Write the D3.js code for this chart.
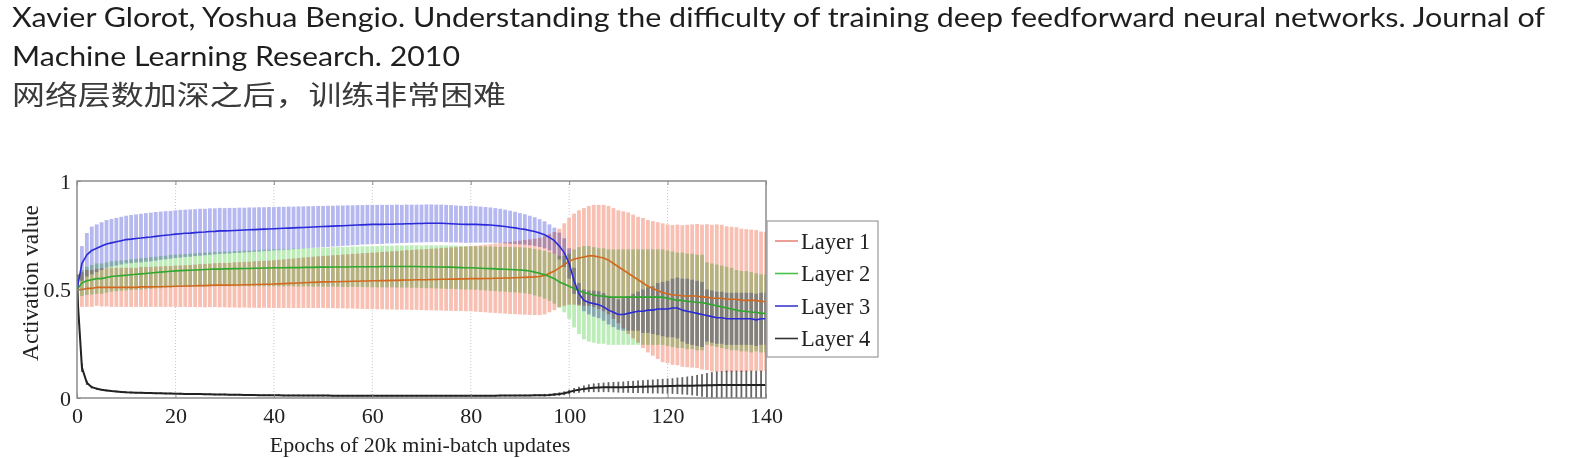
<!DOCTYPE html>
<html>
<head>
<meta charset="utf-8">
<script src="https://cdnjs.cloudflare.com/ajax/libs/d3/7.8.5/d3.min.js"></script>
<style>
  body { margin: 0; background: #fff; }
  svg { display: block; }
</style>
</head>
<body>
<div id="chart"></div>
<script>
// Header text of the slide
const titleLines = [
  'Xavier Glorot, Yoshua Bengio. Understanding the difficulty of training deep feedforward neural networks. Journal of',
  'Machine Learning Research. 2010'
];
const subtitle = '网络层数加深之后，训练非常困难';

const layerNames = ['Layer 1', 'Layer 2', 'Layer 3', 'Layer 4'];
const xTicks = [0, 20, 40, 60, 80, 100, 120, 140];
const yTicks = [0, 0.5, 1];
const yTickLabels = ['0', '0.5', '1'];

// mean activation per epoch (0..140)
const layer1Mean = [
  0.50,0.50,0.505,0.505,0.51,0.51,0.51,0.51,0.51,0.51,
  0.51,0.51,0.51,0.512,0.512,0.512,0.513,0.513,0.514,0.514,
  0.515,0.515,0.516,0.516,0.517,0.518,0.518,0.519,0.52,0.52,
  0.52,0.52,0.521,0.521,0.522,0.522,0.523,0.523,0.524,0.524,
  0.525,0.526,0.527,0.528,0.529,0.53,0.531,0.532,0.533,0.534,
  0.535,0.535,0.536,0.536,0.537,0.537,0.538,0.538,0.539,0.539,
  0.54,0.54,0.541,0.541,0.542,0.542,0.543,0.544,0.544,0.545,
  0.545,0.545,0.546,0.546,0.547,0.547,0.548,0.548,0.549,0.549,
  0.55,0.55,0.55,0.551,0.551,0.552,0.552,0.553,0.553,0.554,
  0.555,0.556,0.557,0.558,0.56,0.565,0.575,0.585,0.60,0.615,
  0.63,0.64,0.645,0.65,0.655,0.655,0.65,0.645,0.635,0.62,
  0.605,0.59,0.575,0.56,0.545,0.53,0.515,0.505,0.495,0.485,
  0.48,0.475,0.475,0.47,0.47,0.47,0.47,0.465,0.465,0.46,
  0.46,0.46,0.455,0.455,0.455,0.45,0.45,0.45,0.45,0.445,
  0.445
];
const layer1Std = [
  0.07,0.08,0.085,0.085,0.085,0.088,0.088,0.09,0.09,0.09,
  0.09,0.09,0.09,0.092,0.092,0.092,0.093,0.093,0.094,0.094,
  0.095,0.096,0.096,0.097,0.098,0.099,0.10,0.10,0.101,0.102,
  0.102,0.103,0.104,0.105,0.105,0.106,0.107,0.108,0.108,0.109,
  0.11,0.111,0.112,0.113,0.114,0.115,0.116,0.117,0.118,0.119,
  0.12,0.121,0.122,0.123,0.124,0.125,0.126,0.127,0.128,0.129,
  0.13,0.131,0.132,0.133,0.134,0.135,0.136,0.137,0.138,0.139,
  0.14,0.141,0.142,0.143,0.144,0.145,0.146,0.147,0.148,0.149,
  0.15,0.152,0.154,0.156,0.158,0.16,0.162,0.164,0.166,0.168,
  0.17,0.172,0.174,0.176,0.178,0.18,0.18,0.18,0.18,0.19,
  0.20,0.21,0.22,0.225,0.23,0.235,0.24,0.245,0.25,0.255,
  0.26,0.27,0.28,0.285,0.29,0.30,0.305,0.31,0.315,0.32,
  0.32,0.322,0.324,0.326,0.328,0.33,0.332,0.334,0.336,0.338,
  0.34,0.338,0.336,0.334,0.332,0.33,0.328,0.326,0.324,0.322,
  0.32
];
const layer2Mean = [
  0.50,0.53,0.54,0.545,0.55,0.55,0.555,0.56,0.562,0.564,
  0.566,0.568,0.57,0.572,0.574,0.576,0.578,0.58,0.582,0.584,
  0.586,0.587,0.588,0.589,0.59,0.591,0.592,0.593,0.594,0.594,
  0.595,0.595,0.596,0.596,0.597,0.597,0.598,0.598,0.599,0.599,
  0.60,0.60,0.60,0.601,0.601,0.601,0.602,0.602,0.602,0.603,
  0.603,0.603,0.604,0.604,0.604,0.604,0.605,0.605,0.605,0.605,
  0.605,0.605,0.606,0.606,0.606,0.606,0.606,0.606,0.606,0.606,
  0.605,0.605,0.605,0.604,0.604,0.603,0.603,0.602,0.601,0.60,
  0.60,0.599,0.598,0.597,0.596,0.595,0.594,0.593,0.592,0.591,
  0.59,0.588,0.585,0.58,0.575,0.568,0.56,0.55,0.535,0.525,
  0.515,0.505,0.495,0.485,0.48,0.475,0.47,0.47,0.465,0.465,
  0.465,0.465,0.465,0.465,0.465,0.465,0.465,0.465,0.465,0.465,
  0.46,0.455,0.45,0.45,0.445,0.445,0.44,0.44,0.435,0.43,
  0.425,0.42,0.415,0.41,0.405,0.40,0.40,0.395,0.395,0.39,
  0.39
];
const layer2Std = [
  0.07,0.06,0.065,0.068,0.07,0.07,0.07,0.07,0.07,0.07,
  0.07,0.071,0.071,0.072,0.072,0.073,0.073,0.074,0.074,0.075,
  0.075,0.075,0.076,0.076,0.077,0.077,0.078,0.078,0.079,0.079,
  0.08,0.08,0.081,0.081,0.082,0.082,0.083,0.083,0.084,0.084,
  0.085,0.085,0.086,0.086,0.087,0.087,0.088,0.088,0.089,0.089,
  0.09,0.09,0.091,0.091,0.092,0.092,0.093,0.093,0.094,0.094,
  0.095,0.095,0.096,0.096,0.096,0.097,0.097,0.097,0.098,0.098,
  0.098,0.099,0.099,0.099,0.10,0.10,0.10,0.10,0.10,0.10,
  0.10,0.10,0.101,0.101,0.102,0.102,0.103,0.103,0.104,0.104,
  0.105,0.105,0.106,0.107,0.108,0.11,0.112,0.115,0.12,0.13,
  0.15,0.18,0.20,0.215,0.22,0.22,0.22,0.22,0.22,0.22,
  0.22,0.22,0.22,0.22,0.22,0.22,0.22,0.22,0.22,0.22,
  0.22,0.22,0.22,0.22,0.22,0.22,0.22,0.22,0.19,0.19,
  0.19,0.19,0.19,0.19,0.185,0.185,0.185,0.185,0.18,0.18,
  0.18
];
const layer3Mean = [
  0.50,0.62,0.66,0.68,0.69,0.70,0.71,0.715,0.72,0.725,
  0.73,0.732,0.735,0.737,0.74,0.742,0.745,0.748,0.75,0.752,
  0.755,0.757,0.759,0.76,0.762,0.764,0.765,0.767,0.768,0.77,
  0.77,0.771,0.772,0.773,0.774,0.775,0.776,0.777,0.778,0.779,
  0.78,0.781,0.782,0.783,0.784,0.785,0.786,0.787,0.788,0.789,
  0.79,0.791,0.792,0.793,0.794,0.795,0.796,0.797,0.798,0.799,
  0.80,0.80,0.80,0.801,0.801,0.802,0.802,0.803,0.803,0.804,
  0.804,0.805,0.805,0.805,0.805,0.804,0.803,0.802,0.801,0.80,
  0.80,0.80,0.799,0.798,0.797,0.795,0.793,0.79,0.787,0.784,
  0.78,0.777,0.772,0.767,0.76,0.752,0.74,0.725,0.70,0.67,
  0.62,0.54,0.48,0.45,0.44,0.435,0.43,0.42,0.405,0.395,
  0.385,0.385,0.39,0.395,0.40,0.40,0.405,0.405,0.41,0.41,
  0.41,0.415,0.415,0.405,0.40,0.395,0.39,0.385,0.38,0.375,
  0.37,0.37,0.365,0.365,0.365,0.365,0.365,0.365,0.36,0.365,
  0.365
];
const layer3Std = [
  0.07,0.08,0.10,0.11,0.11,0.11,0.11,0.11,0.11,0.11,
  0.11,0.111,0.111,0.112,0.112,0.112,0.112,0.111,0.111,0.11,
  0.11,0.11,0.109,0.109,0.108,0.108,0.107,0.107,0.106,0.106,
  0.105,0.105,0.104,0.104,0.103,0.103,0.102,0.102,0.101,0.101,
  0.10,0.10,0.099,0.099,0.098,0.098,0.097,0.097,0.096,0.096,
  0.095,0.095,0.094,0.094,0.093,0.093,0.092,0.092,0.091,0.091,
  0.09,0.09,0.09,0.089,0.089,0.089,0.088,0.088,0.088,0.087,
  0.087,0.087,0.087,0.086,0.086,0.086,0.086,0.085,0.085,0.085,
  0.085,0.084,0.083,0.082,0.081,0.08,0.079,0.078,0.076,0.074,
  0.072,0.07,0.068,0.066,0.064,0.062,0.06,0.06,0.062,0.066,
  0.07,0.06,0.05,0.05,0.055,0.06,0.062,0.064,0.066,0.068,
  0.07,0.075,0.08,0.085,0.09,0.10,0.105,0.11,0.12,0.125,
  0.13,0.135,0.14,0.145,0.15,0.15,0.15,0.15,0.12,0.12,
  0.12,0.12,0.12,0.12,0.12,0.12,0.12,0.12,0.12,0.12,
  0.12
];
const layer4Mean = [
  0.50,0.14,0.07,0.05,0.043,0.038,0.035,0.032,0.03,0.028,
  0.026,0.025,0.024,0.024,0.023,0.023,0.022,0.022,0.021,0.021,
  0.02,0.02,0.019,0.019,0.018,0.018,0.017,0.017,0.016,0.016,
  0.016,0.015,0.015,0.015,0.014,0.014,0.014,0.013,0.013,0.013,
  0.013,0.013,0.012,0.012,0.012,0.012,0.011,0.011,0.011,0.011,
  0.011,0.011,0.01,0.01,0.01,0.01,0.01,0.01,0.01,0.01,
  0.01,0.01,0.01,0.01,0.01,0.01,0.01,0.01,0.01,0.01,
  0.01,0.01,0.01,0.01,0.01,0.01,0.01,0.01,0.01,0.01,
  0.01,0.01,0.01,0.01,0.01,0.01,0.011,0.011,0.011,0.011,
  0.012,0.012,0.012,0.013,0.013,0.013,0.014,0.016,0.018,0.022,
  0.028,0.034,0.038,0.042,0.045,0.047,0.048,0.049,0.05,0.05,
  0.05,0.05,0.051,0.051,0.052,0.052,0.053,0.053,0.054,0.054,
  0.055,0.055,0.056,0.056,0.057,0.057,0.058,0.058,0.059,0.059,
  0.06,0.06,0.06,0.06,0.06,0.06,0.06,0.06,0.06,0.06,
  0.06
];
const layer4Std = [
  0.07,0.02,0.01,0.006,0.005,0.004,0.004,0.004,0.004,0.004,
  0.004,0.004,0.004,0.004,0.004,0.004,0.004,0.004,0.004,0.004,
  0.004,0.004,0.004,0.004,0.004,0.004,0.004,0.004,0.004,0.004,
  0.004,0.004,0.004,0.004,0.004,0.004,0.004,0.004,0.004,0.004,
  0.004,0.004,0.004,0.004,0.004,0.004,0.004,0.004,0.004,0.004,
  0.004,0.004,0.004,0.004,0.004,0.004,0.004,0.004,0.004,0.004,
  0.004,0.004,0.004,0.004,0.004,0.004,0.004,0.004,0.004,0.004,
  0.004,0.004,0.004,0.004,0.004,0.004,0.004,0.004,0.004,0.004,
  0.004,0.004,0.004,0.004,0.004,0.004,0.004,0.004,0.004,0.004,
  0.004,0.004,0.004,0.005,0.005,0.006,0.006,0.007,0.008,0.009,
  0.01,0.012,0.014,0.016,0.018,0.02,0.021,0.022,0.023,0.024,
  0.025,0.026,0.027,0.028,0.029,0.03,0.031,0.032,0.033,0.034,
  0.035,0.036,0.038,0.04,0.042,0.045,0.048,0.052,0.056,0.06,
  0.062,0.064,0.066,0.066,0.066,0.066,0.066,0.066,0.066,0.066,
  0.066
];

const layers = [
  { name: layerNames[0], mean: layer1Mean, std: layer1Std, bar: '#f8bfb3', line: '#d2691e', key: '#e8887c' },
  { name: layerNames[1], mean: layer2Mean, std: layer2Std, bar: '#bcecb8', line: '#2ea82e', key: '#4cc24c' },
  { name: layerNames[2], mean: layer3Mean, std: layer3Std, bar: '#b6b8f0', line: '#2a2ad8', key: '#3a3ad6' },
  { name: layerNames[3], mean: layer4Mean, std: layer4Std, bar: '#666666', line: '#222222', key: '#333333' }
];

const width = 1579, height = 458;
const plot = { left: 77, top: 181, right: 766, bottom: 398 };

const svg = d3.select('#chart').append('svg')
  .attr('width', width)
  .attr('height', height);

svg.append('rect').attr('width', width).attr('height', height).attr('fill', '#fff');

// slide header
svg.selectAll('text.title')
  .data(titleLines)
  .enter().append('text')
  .attr('class', 'title')
  .attr('x', 12)
  .attr('y', (d, i) => 27 + i * 39)
  .attr('textLength', (d, i) => i == 0 ? 1533 : 448)
  .attr('lengthAdjust', 'spacingAndGlyphs')
  .style('font-family', 'Lato, "Open Sans", sans-serif')
  .style('font-size', '27px')
  .attr('fill', '#1e1e1e')
  .text(d => d);

svg.append('text')
  .attr('x', 12)
  .attr('y', 105)
  .attr('textLength', 494)
  .attr('lengthAdjust', 'spacingAndGlyphs')
  .style('font-family', '"Noto Sans CJK SC", sans-serif')
  .style('font-size', '27px')
  .attr('fill', '#3a3a3a')
  .text(subtitle);

const x = d3.scaleLinear().domain([0, 140]).range([plot.left, plot.right]);
const y = d3.scaleLinear().domain([0, 1]).range([plot.bottom, plot.top]);

svg.append('clipPath').attr('id', 'plot-clip')
  .append('rect')
  .attr('x', plot.left).attr('y', plot.top)
  .attr('width', plot.right - plot.left)
  .attr('height', plot.bottom - plot.top);

// dotted vertical grid
svg.append('g')
  .selectAll('line')
  .data(xTicks.slice(1, -1))
  .enter().append('line')
  .attr('x1', d => x(d)).attr('x2', d => x(d))
  .attr('y1', plot.top).attr('y2', plot.bottom)
  .attr('stroke', '#c8c8c8')
  .attr('stroke-width', 1)
  .attr('stroke-dasharray', '1,2');

// error bars, multiplied so overlaps darken like the printed figure
const bars = svg.append('g')
  .attr('clip-path', 'url(#plot-clip)')
  .style('isolation', 'isolate');

layers.forEach(layer => {
  const isBlack = layer === layers[3];
  bars.append('g')
    .selectAll('rect')
    .data(layer.mean.map((m, i) => ({ i: i, lo: Math.max(0, m - layer.std[i]), hi: Math.min(1, m + layer.std[i]) })))
    .enter().append('rect')
    .attr('x', d => x(d.i) - (isBlack ? 0.9 : 1.9))
    .attr('width', isBlack ? 1.8 : 3.8)
    .attr('y', d => y(d.hi))
    .attr('height', d => Math.max(0.5, y(d.lo) - y(d.hi)))
    .attr('fill', layer.bar)
    .style('mix-blend-mode', 'multiply');
});

// mean curves
const line = d3.line()
  .x((d, i) => x(i))
  .y(d => y(d));

const curves = svg.append('g').attr('clip-path', 'url(#plot-clip)');
layers.forEach(layer => {
  curves.append('path')
    .attr('d', line(layer.mean))
    .attr('fill', 'none')
    .attr('stroke', layer.line)
    .attr('stroke-width', layer === layers[3] ? 2 : 1.6)
    .attr('stroke-linejoin', 'round');
});

// axes box and ticks
svg.append('rect')
  .attr('x', plot.left).attr('y', plot.top)
  .attr('width', plot.right - plot.left)
  .attr('height', plot.bottom - plot.top)
  .attr('fill', 'none')
  .attr('stroke', '#8c8c8c')
  .attr('stroke-width', 1.5);

const serif = '"Liberation Serif", "Times New Roman", serif';

const xAxis = svg.append('g')
  .attr('transform', `translate(0,${plot.bottom})`)
  .call(d3.axisBottom(x).tickValues(xTicks).tickSize(-4).tickPadding(9).tickFormat(d3.format('d')));
const xAxisTop = svg.append('g')
  .attr('transform', `translate(0,${plot.top})`)
  .call(d3.axisTop(x).tickValues(xTicks).tickSize(-4).tickFormat(''));
const yAxis = svg.append('g')
  .attr('transform', `translate(${plot.left},0)`)
  .call(d3.axisLeft(y).tickValues(yTicks).tickSize(-4).tickPadding(6).tickFormat((d, i) => yTickLabels[i]));

[xAxis, xAxisTop, yAxis].forEach(g => {
  g.select('.domain').remove();
  g.selectAll('.tick line').attr('stroke', '#8c8c8c');
  g.selectAll('.tick text')
    .style('font-family', serif)
    .style('font-size', '22px')
    .attr('fill', '#222');
});

svg.append('text')
  .attr('x', 420)
  .attr('y', 452)
  .attr('text-anchor', 'middle')
  .style('font-family', serif)
  .style('font-size', '22px')
  .attr('fill', '#222')
  .text('Epochs of 20k mini-batch updates');

svg.append('text')
  .attr('transform', `translate(38,283) rotate(-90)`)
  .attr('text-anchor', 'middle')
  .style('font-family', serif)
  .style('font-size', '23.5px')
  .attr('fill', '#222')
  .text('Activation value');

// legend
const legend = svg.append('g').attr('transform', 'translate(767,221)');
legend.append('rect')
  .attr('width', 111).attr('height', 136)
  .attr('fill', '#fff')
  .attr('stroke', '#9a9a9a')
  .attr('stroke-width', 1.2);

const entry = legend.selectAll('g.entry')
  .data(layers)
  .enter().append('g')
  .attr('class', 'entry')
  .attr('transform', (d, i) => `translate(0,${20 + i * 32.5})`);
entry.append('line')
  .attr('x1', 8).attr('x2', 31)
  .attr('stroke', d => d.key)
  .attr('stroke-width', 1.6);
entry.append('text')
  .attr('x', 34)
  .attr('y', 7.5)
  .style('font-family', serif)
  .style('font-size', '22.5px')
  .attr('fill', '#222')
  .text(d => d.name);
</script>
</body>
</html>
